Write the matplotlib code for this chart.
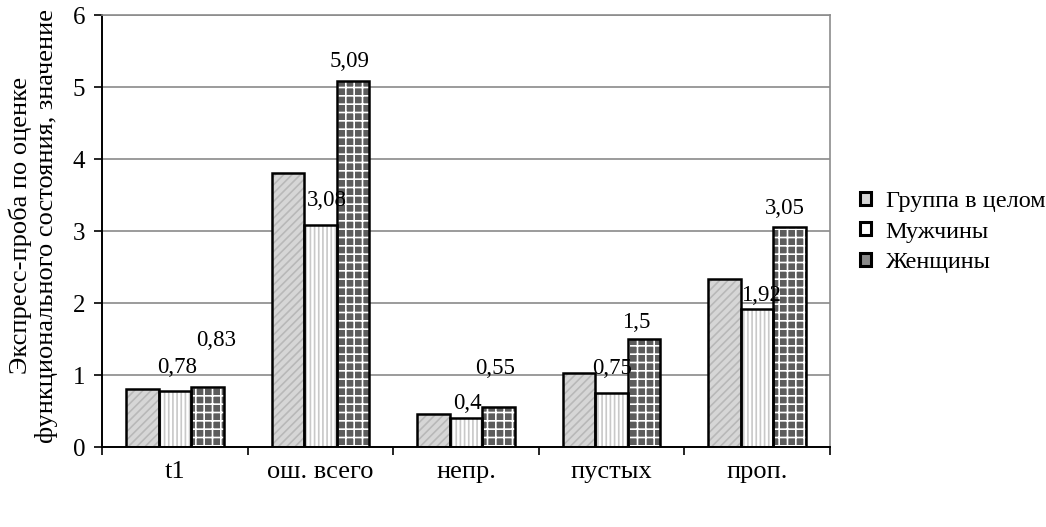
import matplotlib
matplotlib.use('Agg')
import matplotlib.pyplot as plt
import matplotlib.patches as mpatches
import numpy as np

plt.rcParams['font.family'] = ['Liberation Serif', 'DejaVu Serif']
plt.rcParams['hatch.linewidth'] = 1.2

# ── данные ──
categories = ['t1', 'ош. всего', 'непр.', 'пустых', 'проп.']
series = ['Группа в целом', 'Мужчины', 'Женщины']
group_all = [0.80, 3.80, 0.46, 1.03, 2.33]
men = [0.78, 3.08, 0.40, 0.75, 1.92]
women = [0.83, 5.09, 0.55, 1.50, 3.05]
men_labels = ['0,78', '3,08', '0,4', '0,75', '1,92']
women_labels = ['0,83', '5,09', '0,55', '1,5', '3,05']

# стиль серий: заливка, штриховка, цвет штриховки
styles = [
    ('#d6d6d6', '////', '#b8b8b8'),
    ('#ffffff', '||||', '#c8c8c8'),
    ('#5c5c5c', '++', '#ffffff'),
]
# смещения подписей (px) как на оригинале
men_off = [(2, 23), (6, 25), (1, 15), (0, 25), (4, 13)]
women_off = [(9, 47), (-3, 19), (-3, 39), (-8, 16), (-5, 19)]

fig = plt.figure(figsize=(10.46, 5.27), dpi=100)
ax = fig.add_axes([102/1046, 80/527, 728/1046, 432/527])

x = np.arange(len(categories))
w = 0.223
vals = [group_all, men, women]
for k, (v, (fc, hatch, hc)) in enumerate(zip(vals, styles)):
    pos = x + (k - 1) * w
    ax.bar(pos, v, w, color=fc, edgecolor=hc, hatch=hatch, lw=0, zorder=2)
    ax.bar(pos, v, w, facecolor='none', edgecolor='black', lw=1.8, zorder=3)

fs = 16.5
for i in range(len(categories)):
    dx, dy = men_off[i]
    ax.annotate(men_labels[i], (x[i], men[i]), xytext=(dx*0.72, dy*0.72),
                textcoords='offset points', ha='center', va='center',
                fontsize=fs, zorder=4)
    dx, dy = women_off[i]
    ax.annotate(women_labels[i], (x[i] + w, women[i]), xytext=(dx*0.72, dy*0.72),
                textcoords='offset points', ha='center', va='center',
                fontsize=fs, zorder=4)

ax.set_xlim(-0.5, len(categories) - 0.5)
ax.set_ylim(0, 6)
ax.set_yticks(range(7))
ax.yaxis.grid(True, color='#808080', lw=1.1, zorder=0)
ax.set_axisbelow(True)
ax.set_xticks(x)
ax.set_xticklabels(categories, fontsize=19)
ax.set_xticks(np.arange(-0.5, len(categories)), minor=True)
ax.tick_params(axis='x', which='major', length=0, pad=10)
ax.tick_params(axis='x', which='minor', length=6, width=1.2, direction='out')
ax.tick_params(axis='y', length=6, width=1.2, direction='out', labelsize=18, pad=6)

for s in ['top', 'right']:
    ax.spines[s].set_color('#8c8c8c')
    ax.spines[s].set_linewidth(1.2)
for s in ['left', 'bottom']:
    ax.spines[s].set_color('black')
    ax.spines[s].set_linewidth(1.4)

fig.text(33/1046, 0.572, 'Экспресс-проба по оценке\nфункционального состояния, значение',
         rotation=90, ha='center', va='center', fontsize=19, linespacing=1.15)

handles = [mpatches.Patch(facecolor=fc, edgecolor='black', lw=2.2, label=lab)
           for (fc, h, hc), lab in zip(styles, series)]
handles[2].set_facecolor('#8a8a8a')
fig.legend(handles=handles, loc='center left', bbox_to_anchor=(860/1046, 1 - 232/527),
           frameon=False, fontsize=17.5, handlelength=0.45, handleheight=0.45,
           handletextpad=0.6, labelspacing=0.4, borderaxespad=0, borderpad=0)

fig.savefig('out.png', dpi=100)
